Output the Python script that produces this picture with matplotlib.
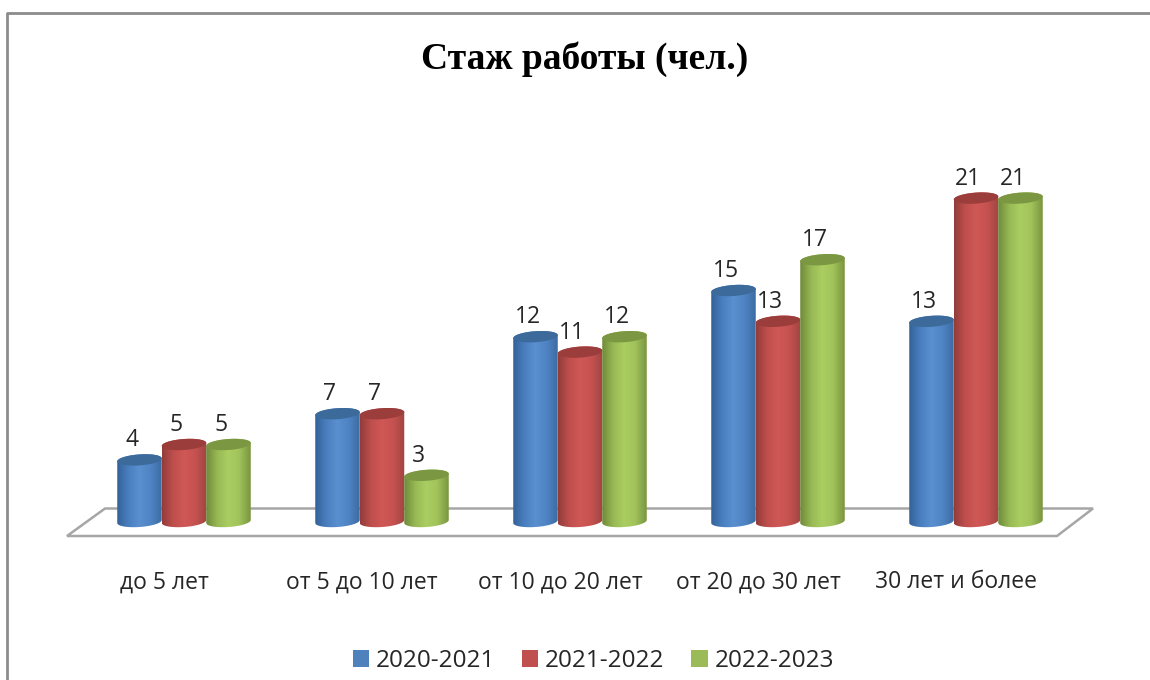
import numpy as np
import matplotlib
matplotlib.use('Agg')
import matplotlib.pyplot as plt
from matplotlib.colors import LinearSegmentedColormap
from matplotlib.patches import PathPatch, Polygon, Rectangle
from matplotlib.path import Path

categorias = ['до 5 лет', 'от 5 до 10 лет', 'от 10 до 20 лет', 'от 20 до 30 лет', '30 лет и более']
periodos = ['2020-2021', '2021-2022', '2022-2023']
v_2020 = [4, 7, 12, 15, 13]
v_2021 = [5, 7, 11, 13, 21]
v_2022 = [5, 3, 12, 17, 21]
series = [v_2020, v_2021, v_2022]

# gradiente de izq a der; tapa; leyenda
estilos = [
    (['#33629a', '#4a7fbf', '#5a8fd0', '#4f84c4', '#3d6ca3'], '#3b6a9b', '#4f81bd'),
    (['#933d3b', '#c04f4d', '#d05856', '#c55250', '#a04543'], '#9a3d3b', '#c0504d'),
    (['#708b3a', '#98b955', '#abce62', '#a0c25a', '#7a9640'], '#7b9741', '#9bbb59'),
]

PX_W, PX_H = 1150, 680
PX_UNIDAD = 15.4   # pixeles por persona
ANCHO_CIL = 44.5 / 198  # ancho del cilindro en unidades de categoria
RX = ANCHO_CIL / 2
RY = 5.5 / PX_UNIDAD
SESGO = 1.5 / PX_UNIDAD

fig = plt.figure(figsize=(PX_W / 100, PX_H / 100), dpi=100)
plt.rcParams['font.family'] = ['Open Sans', 'DejaVu Sans']

# fondo en pixeles: marco y piso
bg = fig.add_axes([0, 0, 1, 1])
bg.set_xlim(0, PX_W)
bg.set_ylim(PX_H, 0)
bg.axis('off')
bg.plot([7, 7, 1150], [680, 13, 13], color='#8c8c8c', lw=2)
bg.add_patch(Polygon([(67, 536), (1057, 536), (1093, 508.5), (105, 508.5)], closed=True,
                     facecolor='white', edgecolor='#a6a6a6', lw=1.8))
bg.text(585, 59, 'Стаж работы (чел.)', fontsize=27, fontweight='bold',
        family=['Liberation Serif'], ha='center', va='center', color='black')

# grafico: x de 85 a 1075 px, y=0 en 521.5 px
alto = 25 * PX_UNIDAD
ax = fig.add_axes([85 / PX_W, (PX_H - 521.5) / PX_H, 990 / PX_W, alto / PX_H])
ax.patch.set_alpha(0)
for s in ax.spines.values():
    s.set_visible(False)
ax.set_yticks([])
ax.set_xticks(np.arange(len(categorias)) - 20 / 198)
ax.set_xticklabels(categorias, fontsize=16.5, color='#262626', va='baseline')
ax.tick_params(axis='x', length=0, pad=48)

t = np.linspace(0, 2 * np.pi, 80)
for j, (vals, (grad, tapa, _)) in enumerate(zip(series, estilos)):
    cmap = LinearSegmentedColormap.from_list('c%d' % j, grad)
    for i, v in enumerate(vals):
        cx = i + (j - 1) * ANCHO_CIL
        # contorno del cuerpo: mitad inferior de la base y mitad superior de la tapa
        tb = np.linspace(0, -np.pi, 40)
        xb = cx + RX * np.cos(tb)
        yb = RY * np.sin(tb) + SESGO * np.cos(tb)
        tt = np.linspace(np.pi, 0, 40)
        xt = cx + RX * np.cos(tt)
        yt = v + RY * np.sin(tt) + SESGO * np.cos(tt)
        contorno = np.column_stack([np.r_[xb, xt], np.r_[yb, yt]])
        cuerpo = PathPatch(Path(np.vstack([contorno, contorno[:1]])), facecolor='none', edgecolor='none',
                           transform=ax.transData, clip_on=False)
        ax.add_patch(cuerpo)
        im = ax.imshow(np.linspace(0, 1, 64).reshape(1, -1), cmap=cmap, aspect='auto',
                       extent=[cx - RX, cx + RX, -1, v + 1], zorder=3 + j)
        im.set_clip_box(fig.bbox)
        im.set_clip_path(cuerpo)
        ax.fill(cx + RX * np.cos(t), v + RY * np.sin(t) + SESGO * np.cos(t), color=tapa,
                lw=0, zorder=3 + j, clip_on=False)
        ax.annotate(str(v), (cx, v), xytext=(-5.5, 14), textcoords='offset points', ha='center',
                    va='center', fontsize=16.5, color='#262626', annotation_clip=False, zorder=10)
ax.set_xlim(-0.5, 4.5)
ax.set_ylim(0, 25)

handles = [Rectangle((0, 0), 1, 1, facecolor=e[2], edgecolor='none') for e in estilos]
fig.legend(handles, periodos, loc='center', bbox_to_anchor=(593.5 / PX_W, (PX_H - 661) / PX_H), ncol=3,
           frameon=False, fontsize=17.5, handlelength=0.66, handleheight=0.66, handletextpad=0.29,
           columnspacing=1.1, labelcolor='#262626', borderpad=0, borderaxespad=0)

fig.savefig('out.png', dpi=100)
